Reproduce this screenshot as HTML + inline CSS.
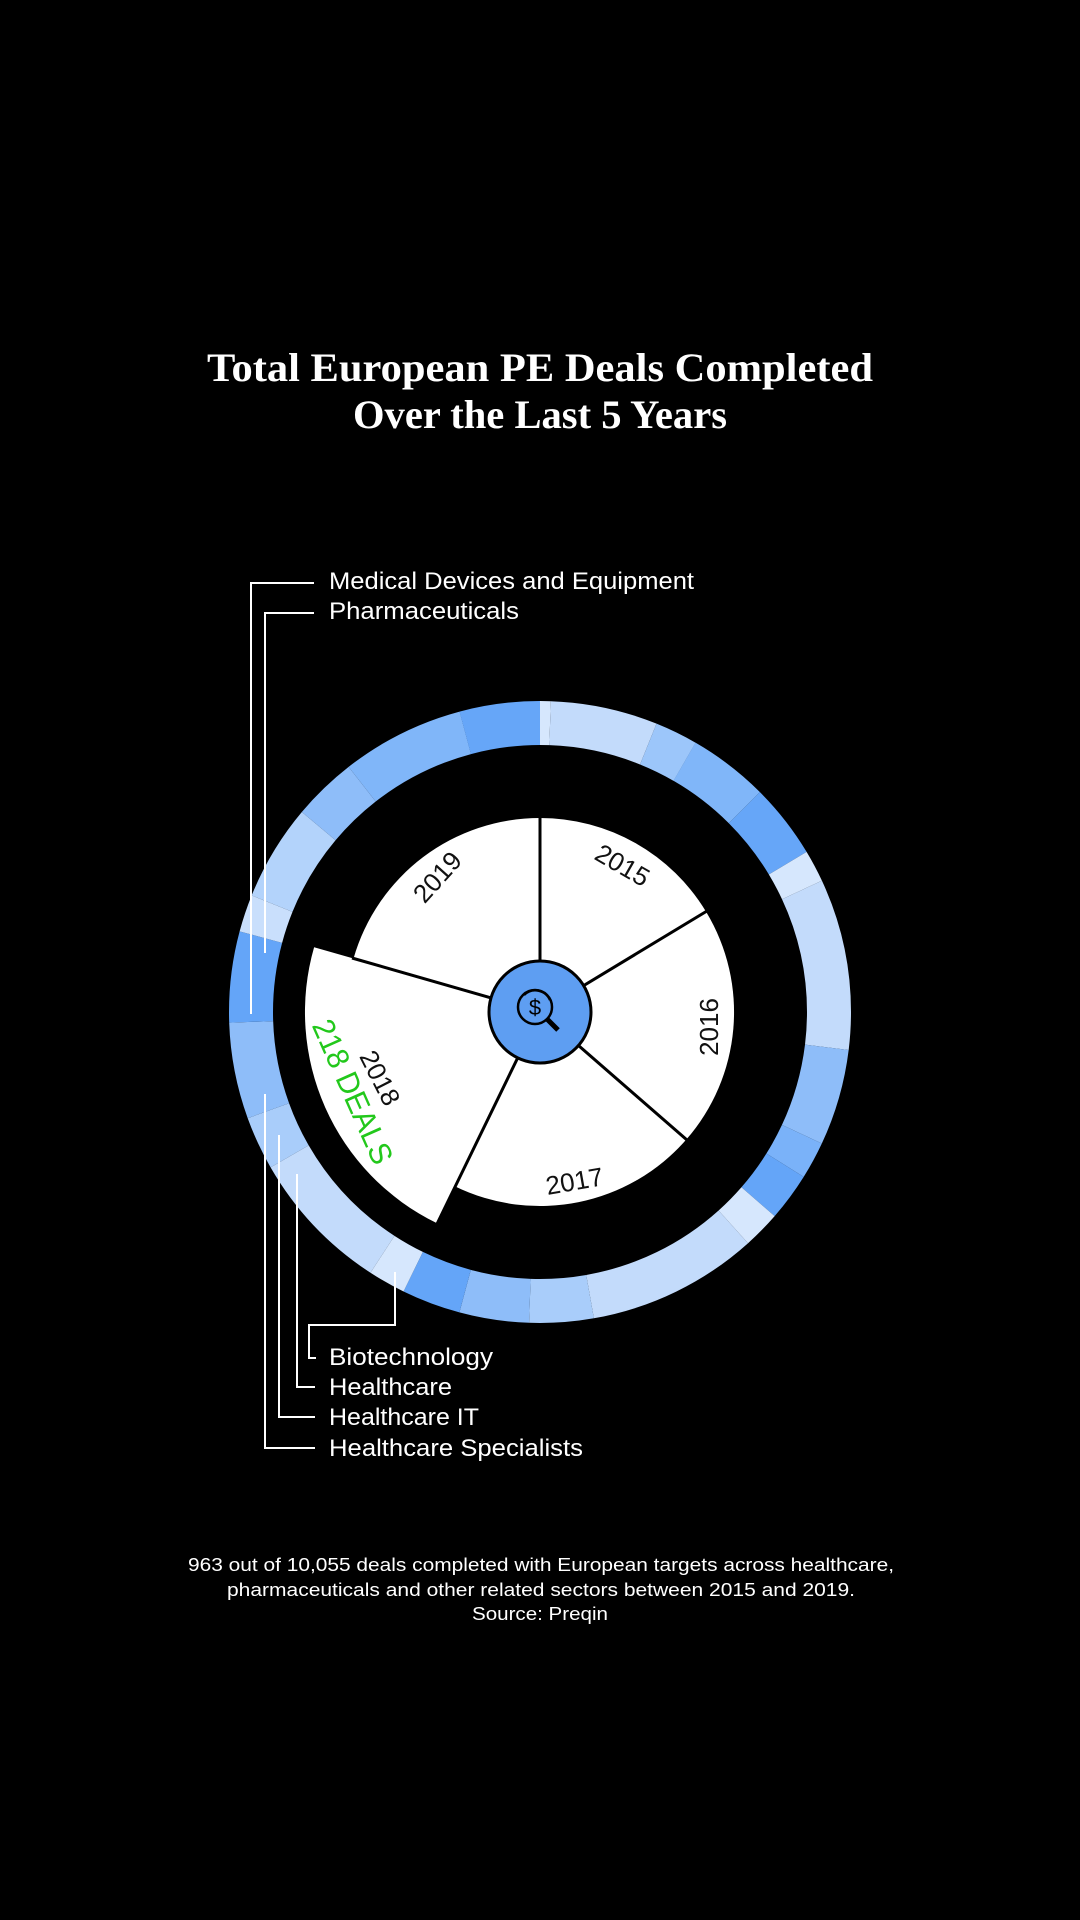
<!DOCTYPE html>
<html><head><meta charset="utf-8"><style>
html,body{margin:0;padding:0;background:#000;}
svg{display:block;}
</style></head><body>
<svg width="1080" height="1920" viewBox="0 0 1080 1920" xmlns="http://www.w3.org/2000/svg">
<rect width="1080" height="1920" fill="#000"/>
<g font-family="Liberation Serif, serif" font-weight="bold" fill="#fff" font-size="40" text-anchor="middle">
<text x="540" y="381" textLength="666" lengthAdjust="spacingAndGlyphs">Total European PE Deals Completed</text>
<text x="540" y="428" textLength="374" lengthAdjust="spacingAndGlyphs">Over the Last 5 Years</text>
</g>
<g fill="none" stroke-width="44" transform="rotate(-90 540 1012)">
<circle cx="540" cy="1012" r="289" stroke="#d6e7fd" stroke-dasharray="10.1 3000" stroke-dashoffset="0"/>
<circle cx="540" cy="1012" r="289" stroke="#c3dbfb" stroke-dasharray="100.9 3000" stroke-dashoffset="-10.1"/>
<circle cx="540" cy="1012" r="289" stroke="#9cc6fa" stroke-dasharray="40.4 3000" stroke-dashoffset="-111"/>
<circle cx="540" cy="1012" r="289" stroke="#80b6f9" stroke-dasharray="75.7 3000" stroke-dashoffset="-151.3"/>
<circle cx="540" cy="1012" r="289" stroke="#66a6f8" stroke-dasharray="70.6 3000" stroke-dashoffset="-227"/>
<circle cx="540" cy="1012" r="289" stroke="#d6e7fd" stroke-dasharray="30.3 3000" stroke-dashoffset="-297.6"/>
<circle cx="540" cy="1012" r="289" stroke="#c3dbfb" stroke-dasharray="161.4 3000" stroke-dashoffset="-327.9"/>
<circle cx="540" cy="1012" r="289" stroke="#8ebdf9" stroke-dasharray="90.8 3000" stroke-dashoffset="-489.3"/>
<circle cx="540" cy="1012" r="289" stroke="#7ab2f9" stroke-dasharray="35.3 3000" stroke-dashoffset="-580.1"/>
<circle cx="540" cy="1012" r="289" stroke="#64a5f8" stroke-dasharray="45.4 3000" stroke-dashoffset="-615.4"/>
<circle cx="540" cy="1012" r="289" stroke="#d6e7fd" stroke-dasharray="35.3 3000" stroke-dashoffset="-660.8"/>
<circle cx="540" cy="1012" r="289" stroke="#c3dbfb" stroke-dasharray="161.4 3000" stroke-dashoffset="-696.1"/>
<circle cx="540" cy="1012" r="289" stroke="#a9cdfa" stroke-dasharray="60.5 3000" stroke-dashoffset="-857.5"/>
<circle cx="540" cy="1012" r="289" stroke="#8ebdf9" stroke-dasharray="65.6 3000" stroke-dashoffset="-918"/>
<circle cx="540" cy="1012" r="289" stroke="#64a5f8" stroke-dasharray="55.5 3000" stroke-dashoffset="-983.6"/>
<circle cx="540" cy="1012" r="289" stroke="#d6e7fd" stroke-dasharray="35.3 3000" stroke-dashoffset="-1039.1"/>
<circle cx="540" cy="1012" r="289" stroke="#c3dbfb" stroke-dasharray="136.2 3000" stroke-dashoffset="-1074.4"/>
<circle cx="540" cy="1012" r="289" stroke="#a9cdfa" stroke-dasharray="50.4 3000" stroke-dashoffset="-1210.6"/>
<circle cx="540" cy="1012" r="289" stroke="#8ebdf9" stroke-dasharray="90.8 3000" stroke-dashoffset="-1261"/>
<circle cx="540" cy="1012" r="289" stroke="#64a5f8" stroke-dasharray="85.7 3000" stroke-dashoffset="-1351.8"/>
<circle cx="540" cy="1012" r="289" stroke="#c9dffc" stroke-dasharray="35.3 3000" stroke-dashoffset="-1437.5"/>
<circle cx="540" cy="1012" r="289" stroke="#b3d3fb" stroke-dasharray="90.8 3000" stroke-dashoffset="-1472.8"/>
<circle cx="540" cy="1012" r="289" stroke="#8ebdf9" stroke-dasharray="60.5 3000" stroke-dashoffset="-1563.6"/>
<circle cx="540" cy="1012" r="289" stroke="#80b6f9" stroke-dasharray="116 3000" stroke-dashoffset="-1624.1"/>
<circle cx="540" cy="1012" r="289" stroke="#66a6f8" stroke-dasharray="76 3000" stroke-dashoffset="-1740"/>
</g>
<g fill="#fff">
<path d="M540,1012 L540,818 A194,194 0 0 1 706.3,912.1 Z"/>
<path d="M540,1012 L706.3,912.1 A194,194 0 0 1 686.5,1139.3 Z"/>
<path d="M540,1012 L686.5,1139.3 A194,194 0 0 1 455,1186.4 Z"/>
<path d="M540,1012 L437,1223.3 A235,235 0 0 1 314.1,947.2 Z"/>
<path d="M540,1012 L353.5,958.5 A194,194 0 0 1 540,818 Z"/>
</g>
<g stroke="#000" stroke-width="3">
<line x1="540" y1="1012" x2="540" y2="816"/>
<line x1="540" y1="1012" x2="707" y2="911"/>
<line x1="540" y1="1012" x2="687" y2="1140"/>
<line x1="540" y1="1012" x2="437" y2="1224"/>
<line x1="540" y1="1012" x2="352" y2="958"/>
</g>
<circle cx="540" cy="1012" r="51" fill="#5e9ef2" stroke="#000" stroke-width="3"/>
<g fill="none" stroke="#000" stroke-width="2.5">
<circle cx="535" cy="1007" r="17"/>
<path d="M524,995 A16,16 0 0 1 550,1000"/>
<line x1="547" y1="1019" x2="558" y2="1030" stroke-width="5"/>
</g>
<text x="535" y="1015" font-family="Liberation Sans, sans-serif" font-size="22" text-anchor="middle" fill="#000">$</text>
<g font-family="Liberation Sans, sans-serif" font-size="26" fill="#111" text-anchor="middle">
<text transform="translate(618,873) rotate(30)">2015</text>
<text transform="translate(718,1027) rotate(-90)">2016</text>
<text transform="translate(576,1190) rotate(-10)">2017</text>
<text transform="translate(444,883) rotate(-48)">2019</text>
<text transform="translate(372,1082) rotate(63)">2018</text>
</g>
<text transform="translate(343,1096) rotate(66)" font-family="Liberation Sans, sans-serif" font-size="31" fill="#22c81b" text-anchor="middle" textLength="155" lengthAdjust="spacingAndGlyphs">218 DEALS</text>
<g stroke="#fff" stroke-width="2" fill="none">
<polyline points="314,583 251,583 251,1014"/>
<polyline points="314,613 265,613 265,953"/>
<polyline points="395,1272 395,1325 309,1325 309,1358 316,1358"/>
<polyline points="297,1174 297,1387 315,1387"/>
<polyline points="279,1135 279,1417 315,1417"/>
<polyline points="265,1094 265,1448 315,1448"/>
</g>
<g font-family="Liberation Sans, sans-serif" font-size="24" fill="#fff">
<text x="329" y="589" textLength="365" lengthAdjust="spacingAndGlyphs">Medical Devices and Equipment</text>
<text x="329" y="619" textLength="190" lengthAdjust="spacingAndGlyphs">Pharmaceuticals</text>
<text x="329" y="1365" textLength="164" lengthAdjust="spacingAndGlyphs">Biotechnology</text>
<text x="329" y="1395" textLength="123" lengthAdjust="spacingAndGlyphs">Healthcare</text>
<text x="329" y="1425" textLength="150" lengthAdjust="spacingAndGlyphs">Healthcare IT</text>
<text x="329" y="1456" textLength="254" lengthAdjust="spacingAndGlyphs">Healthcare Specialists</text>
</g>
<g font-family="Liberation Sans, sans-serif" font-size="18" fill="#fff" text-anchor="middle">
<text x="541" y="1571" textLength="706" lengthAdjust="spacingAndGlyphs">963 out of 10,055 deals completed with European targets across healthcare,</text>
<text x="541" y="1596" textLength="628" lengthAdjust="spacingAndGlyphs">pharmaceuticals and other related sectors between 2015 and 2019.</text>
<text x="540" y="1620" textLength="136" lengthAdjust="spacingAndGlyphs">Source: Preqin</text>
</g>
</svg>
</body></html>
